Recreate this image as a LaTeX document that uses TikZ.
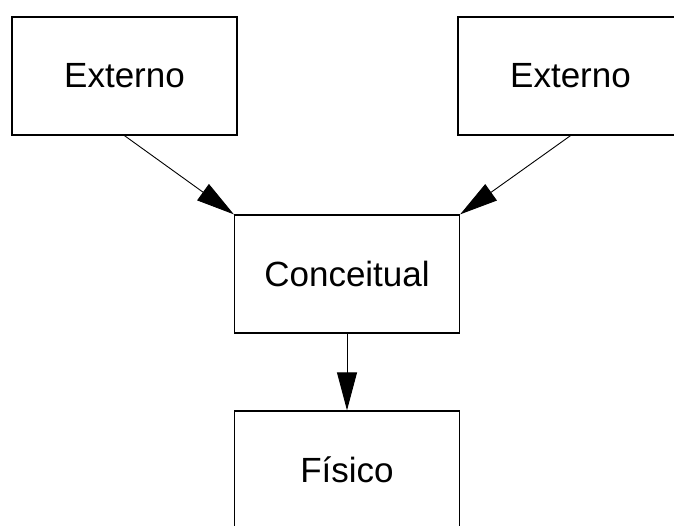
\documentclass[tikz,border=0pt]{standalone}
\usepackage{fontspec}
\setmainfont{Liberation Sans}
\usetikzlibrary{arrows.meta}
\begin{document}
\begin{tikzpicture}[x=1pt,y=-1pt,
  level/.style={draw=black,line width=1.3pt,fill=white,rectangle,
    minimum width=225pt,minimum height=118pt,inner sep=0pt,
    font=\fontsize{35}{42}\selectfont},
  link/.style={draw=black,line width=0.9pt,
    -{Triangle[length=38pt,width=20pt]}}]
  \useasboundingbox (0,0) rectangle (674,525);
  \clip (0,0) rectangle (674,525);
  % four levels of the architecture
  \node[level] (ext1) at (124.5,76) {Externo};
  \node[level] (ext2) at (570.5,76) {Externo};
  \node[level] (conc) at (347,274) {Conceitual};
  \node[level] (fis)  at (347,470) {Físico};
  % mappings between levels
  \draw[link] (ext1.south) -- (conc.north west);
  \draw[link] (ext2.south) -- (conc.north east);
  \draw[link] (conc.south) -- (fis.north);
\end{tikzpicture}
\end{document}
